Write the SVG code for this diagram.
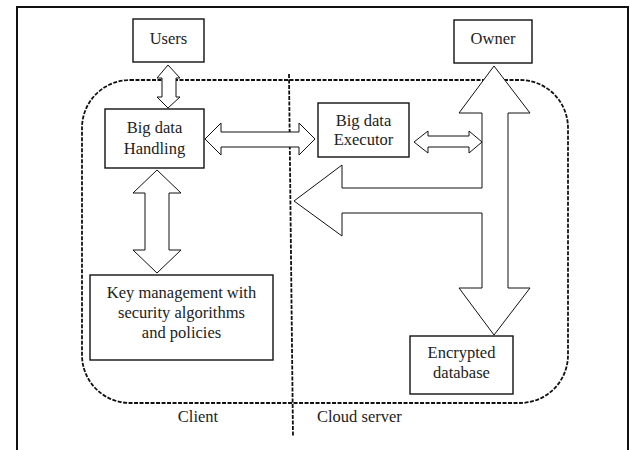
<svg xmlns="http://www.w3.org/2000/svg" width="630" height="450" viewBox="0 0 630 450">
  <style>
    .box { fill: #fff; stroke: #111; stroke-width: 1.4; }
    .arrow { fill: #fff; stroke: #111; stroke-width: 1; stroke-linejoin: miter; }
    .zone { fill: none; stroke: #111; stroke-width: 1.8; stroke-dasharray: 4 1.5; }
    .lbl { font-family: "Liberation Serif", "Times New Roman", serif; font-size: 16.5px; fill: #222; text-anchor: middle; }
  </style>

  <rect width="630" height="450" fill="#fff"/>

  <!-- outer frame, open at the bottom -->
  <path d="M17,452 V7 H628 V452" fill="none" stroke="#111" stroke-width="2"/>

  <!-- client / cloud zones -->
  <g id="zones">
    <rect class="zone" x="82" y="80" width="486" height="323" rx="48" ry="48"/>
    <line class="zone" x1="289" y1="74" x2="293" y2="437"/>
    <text class="lbl" x="198" y="422">Client</text>
    <text class="lbl" x="317" y="422" style="text-anchor:start">Cloud server</text>
  </g>

  <!-- connectors -->
  <g id="connectors">
    <!-- Users <-> Big data Handling -->
    <path class="arrow" d="M168,65 L180,78 L176,78 L176,97 L180,97 L168,108 L157,97 L162,97 L162,78 L157,78 Z"/>
    <!-- Big data Handling <-> Big data Executor -->
    <path class="arrow" d="M205,139 L221,123 L221,132 L299,132 L299,123 L315,139 L299,155 L299,147 L221,147 L221,155 Z"/>
    <!-- Big data Handling <-> Key management -->
    <path class="arrow" d="M157,170 L181,193 L169,193 L169,250 L181,250 L157,273 L133,250 L145,250 L145,193 L133,193 Z"/>
    <!-- Big data Executor <-> owner channel -->
    <path class="arrow" d="M414,142 L428,131 L428,136 L469,136 L469,131 L482,142 L469,153 L469,147 L428,147 L428,153 Z"/>
    <!-- Owner <-> Encrypted database, with branch back to client -->
    <path class="arrow" d="M494,66 L530,113 L508,113 L508,288 L530,288 L494,335 L459,288 L482,288 L482,213 L342,213 L342,236 L294,201 L342,165 L342,188 L482,188 L482,113 L459,113 Z"/>
  </g>

  <g id="users">
    <rect class="box" x="133" y="19" width="71" height="43"/>
    <text class="lbl" x="168.5" y="44">Users</text>
  </g>

  <g id="owner">
    <rect class="box" x="454" y="20" width="78" height="43"/>
    <text class="lbl" x="493" y="44">Owner</text>
  </g>

  <g id="handling">
    <rect class="box" x="105" y="109" width="99" height="59"/>
    <text class="lbl" x="154.5" y="133">Big data</text>
    <text class="lbl" x="154.5" y="154">Handling</text>
  </g>

  <g id="executor">
    <rect class="box" x="318" y="103" width="91" height="54"/>
    <text class="lbl" x="363.5" y="126">Big data</text>
    <text class="lbl" x="363.5" y="145">Executor</text>
  </g>

  <g id="keymgmt">
    <rect class="box" x="90" y="275" width="183" height="85"/>
    <text class="lbl" x="181.5" y="298">Key management with</text>
    <text class="lbl" x="181.5" y="318">security algorithms</text>
    <text class="lbl" x="181.5" y="338">and policies</text>
  </g>

  <g id="database">
    <rect class="box" x="410" y="336" width="103" height="58"/>
    <text class="lbl" x="461.5" y="358">Encrypted</text>
    <text class="lbl" x="461.5" y="378">database</text>
  </g>
</svg>
